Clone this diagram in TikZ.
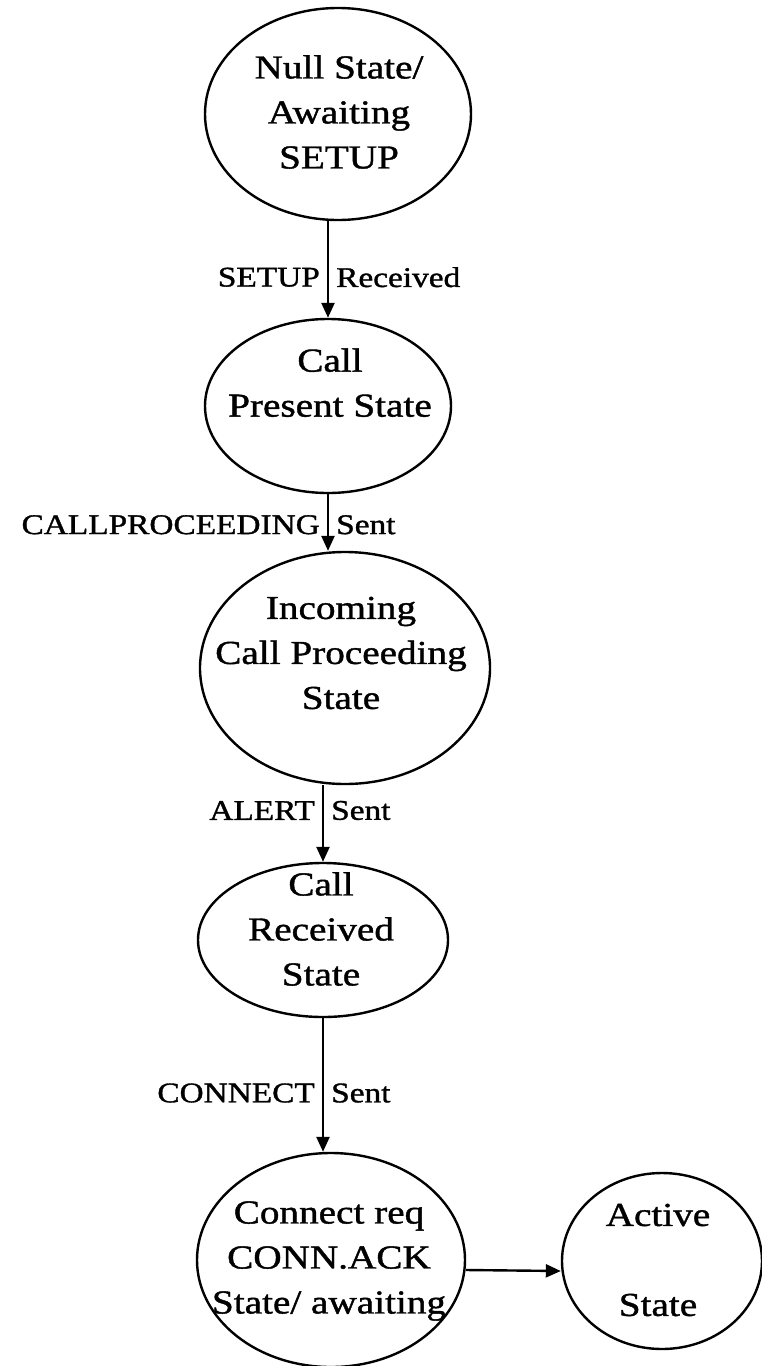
\documentclass[tikz,border=0pt]{standalone}
\usepackage{fontspec}
\setmainfont[FakeStretch=1.17,FakeBold=1.2]{Liberation Serif}
\usetikzlibrary{shapes.geometric,arrows.meta}

\begin{document}
\begin{tikzpicture}[x=1pt,y=-1pt,
	stateshape/.style={draw,ellipse,line width=2.4pt,inner sep=0pt},
	statetext/.style={align=center,inner sep=0pt,font=\fontsize{33.5}{45}\selectfont},
	msg/.style={font=\fontsize{28.5}{34}\selectfont,inner sep=7pt},
	flow/.style={line width=2.4pt,-{Triangle[length=15pt,width=13pt]}}]
\useasboundingbox (0,0) rectangle (762,1366);
% the states
\path (338,114) node[stateshape,minimum width=266pt,minimum height=212pt] (null) {}
		(328,406) node[stateshape,minimum width=246pt,minimum height=174pt] (present) {}
		(345,668) node[stateshape,minimum width=290pt,minimum height=232pt] (proceeding) {}
		(323,940) node[stateshape,minimum width=250pt,minimum height=154pt] (received) {}
		(331,1260) node[stateshape,minimum width=268pt,minimum height=214pt] (connreq) {}
		(662,1261) node[stateshape,minimum width=200pt,minimum height=176pt] (active) {}
		;
\path (339,112) node[statetext] (nulltxt) {Null State/\\Awaiting\\SETUP}
		(330,405) node[statetext] (presenttxt) {Call\\Present State\\~}
		(341,653) node[statetext] (proceedingtxt) {Incoming\\Call Proceeding\\State}
		(321,929) node[statetext] (receivedtxt) {Call\\Received\\State}
		(329,1261) node[statetext] (connreqtxt) {Connect req\\CONN.ACK\\State/ awaiting}
		(658,1260) node[statetext] (activetxt) {Active\\~\\State}
		;
% the transitions
\draw[flow] (null.south -| present.north) -- node[msg,pos=.58,left] {SETUP} node[msg,pos=.58,right] {Received} (present.north);
\draw[flow] (present.south) -- node[msg,pos=.54,left] {CALLPROCEEDING} node[msg,pos=.54,right] {Sent} (present.south |- proceeding.north);
\draw[flow] (proceeding.south -| received.north) -- node[msg,pos=.33,left] {ALERT} node[msg,pos=.33,right] {Sent} (received.north);
\draw[flow] (received.south) -- node[msg,pos=.56,left] {CONNECT} node[msg,pos=.56,right] {Sent} (received.south |- connreq.north);
\draw[flow] ([yshift=-10pt]connreq.east) -- ([yshift=-10pt]active.west);
\end{tikzpicture}
\end{document}
